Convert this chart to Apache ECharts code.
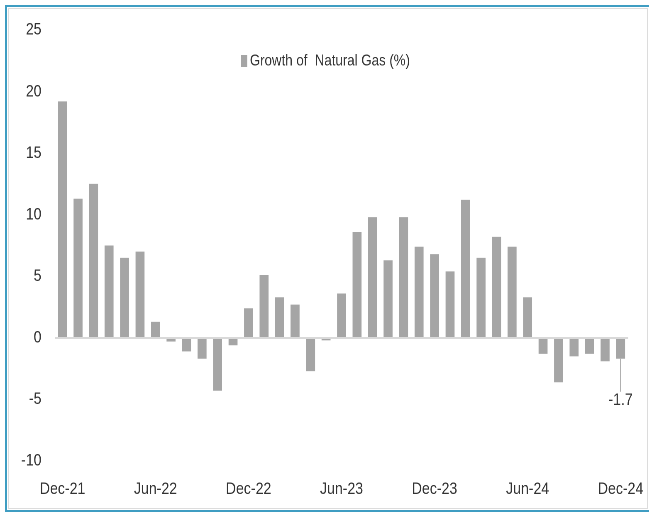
<!DOCTYPE html>
<html><head><meta charset="utf-8">
<script src="https://cdn.jsdelivr.net/npm/echarts@6/dist/echarts.min.js"></script>
<style>
html,body{margin:0;padding:0;background:#fff;width:649px;height:515px;overflow:hidden;}
#frame{position:absolute;left:5px;top:5px;width:660px;height:503px;border:2px solid #3f9dc2;}
#inner{position:absolute;left:8px;top:8px;width:638px;height:499px;border:1px solid #dcdcdc;}
#chart{position:absolute;left:0;top:0;width:782px;height:515px;transform:scaleX(0.83);transform-origin:0 0;}
</style></head>
<body>
<div id="frame"></div>
<div id="inner"></div>
<div id="chart"></div>
<script>
const categories = ["Dec-21","Jan-22","Feb-22","Mar-22","Apr-22","May-22","Jun-22","Jul-22","Aug-22","Sep-22","Oct-22","Nov-22","Dec-22","Jan-23","Feb-23","Mar-23","Apr-23","May-23","Jun-23","Jul-23","Aug-23","Sep-23","Oct-23","Nov-23","Dec-23","Jan-24","Feb-24","Mar-24","Apr-24","May-24","Jun-24","Jul-24","Aug-24","Sep-24","Oct-24","Nov-24","Dec-24"];
const growth = [19.2,11.3,12.5,7.5,6.5,7.0,1.3,-0.3,-1.1,-1.7,-4.3,-0.6,2.4,5.1,3.3,2.7,-2.7,-0.2,3.6,8.6,9.8,6.3,9.8,7.4,6.8,5.4,11.2,6.5,8.2,7.4,3.3,-1.3,-3.6,-1.5,-1.3,-1.9,-1.7];
const seriesName = "Growth of  Natural Gas (%)";
const yTicks = {min:-10, max:25, interval:5};
const labelIndex = growth.length - 1;

const FONT = '"Liberation Sans Narrow","Arial Narrow","Liberation Sans",Arial,sans-serif';
const TXT = '#333333';
const chart = echarts.init(document.getElementById('chart'), null, {renderer:'canvas', devicePixelRatio:2});
chart.setOption({
  animation:false,
  backgroundColor:'transparent',
  textStyle:{fontFamily:FONT},
  legend:{
    data:[seriesName], top:48, left:285, itemWidth:8, itemHeight:12, itemGap:4,
    icon:'rect',
    textStyle:{fontFamily:FONT, fontSize:16, color:TXT, padding:[0,0,0,-2]}
  },
  grid:{left:66, right:25, top:30, bottom:54, containLabel:false},
  xAxis:{
    type:'category', data:categories,
    axisLine:{show:false}, axisTick:{show:false},
    axisLabel:{interval:5, color:TXT, fontSize:17, fontFamily:FONT, margin:20}
  },
  yAxis:{
    type:'value', min:yTicks.min, max:yTicks.max, interval:yTicks.interval,
    axisLine:{show:false}, axisTick:{show:false}, splitLine:{show:false},
    axisLabel:{color:TXT, fontSize:17, fontFamily:FONT, margin:16, padding:[6,0,0,0]}
  },
  series:[{
    name:seriesName, type:'bar', data:growth.map((v,i)=> i===labelIndex ? {
      value:v,
      label:{show:true, position:'bottom', distance:2, formatter:'{c}', color:TXT, fontSize:17, fontFamily:FONT},
      labelLine:{show:true, lineStyle:{color:'#a5a5a5', width:1}}
    } : v),
    barWidth:'58%',
    itemStyle:{color:'#a5a5a5'},
    labelLayout:function(p){ return p.dataIndex===labelIndex ? {dy:31} : {}; },
    labelLine:{show:true, length2:0, lineStyle:{color:'#a5a5a5', width:1}},
    markLine:{silent:true, symbol:'none', label:{show:false},
      lineStyle:{color:'#d9d9d9', width:2, type:'solid'},
      data:[{yAxis:0}]}
  }]
});
</script>
</body></html>
